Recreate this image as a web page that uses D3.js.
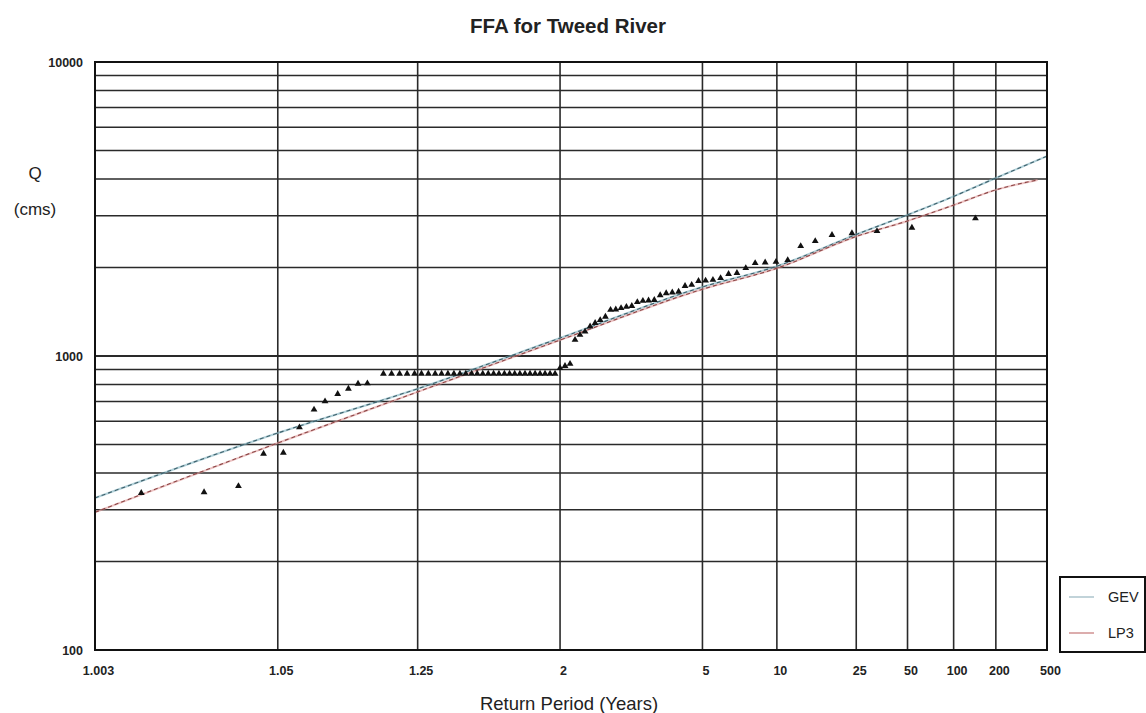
<!DOCTYPE html>
<html>
<head>
<meta charset="utf-8">
<script src="https://cdn.jsdelivr.net/npm/d3@7"></script>
<style>
  html, body { margin: 0; padding: 0; background: #fff; }
  svg { display: block; font-family: "Liberation Sans", Arial, sans-serif; }
</style>
</head>
<body>
<svg id="chart" width="1146" height="713"></svg>
<script>
// ---------------- DATA ----------------
const chartTitle = "FFA for Tweed River";
const xAxisTitle = "Return Period (Years)";
const yAxisTitle = ["Q", "(cms)"];

const xTickValues = [1.003, 1.05, 1.25, 2, 5, 10, 25, 50, 100, 200, 500];
const xTickLabels = ["1.003", "1.05", "1.25", "2", "5", "10", "25", "50", "100", "200", "500"];
const yTickValues = [100, 1000, 10000];
const yTickLabels = ["100", "1000", "10000"];

// observed annual peaks (return period in years, flow in cms), ranked
const obsReturnPeriod = [
  142.0, 53.25, 32.77, 23.67, 18.52, 15.21, 12.91, 11.21, 9.907, 8.875,
  8.038, 7.345, 6.762, 6.265, 5.836, 5.462, 5.133, 4.841, 4.581, 4.347,
  4.136, 3.944, 3.770, 3.610, 3.463, 3.328, 3.203, 3.087, 2.979, 2.878,
  2.784, 2.696, 2.613, 2.536, 2.462, 2.393, 2.328, 2.266, 2.207, 2.152,
  2.099, 2.048, 2.000,
  1.954, 1.910, 1.868, 1.828, 1.790, 1.753, 1.718, 1.684, 1.651, 1.620,
  1.590, 1.560, 1.532, 1.505, 1.479, 1.454, 1.430, 1.406, 1.383, 1.361,
  1.340, 1.319, 1.299, 1.279, 1.260, 1.242, 1.224, 1.207, 1.190, 1.174,
  1.146, 1.1315, 1.1179, 1.1042, 1.0898, 1.0787, 1.0658, 1.0537, 1.0415, 1.0295,
  1.018, 1.0067
];
const obsFlow = [
  2940, 2730, 2660, 2615, 2580, 2460, 2365, 2120, 2090, 2080,
  2070, 1990, 1915, 1900, 1840, 1815, 1805, 1800, 1745, 1730,
  1655, 1645, 1635, 1610, 1550, 1545, 1540, 1525, 1480, 1470,
  1455, 1440, 1435, 1360, 1325, 1295, 1260, 1210, 1180, 1135,
  940, 925, 910,
  870, 870, 870, 870, 870, 870, 870, 870, 870, 870,
  870, 870, 870, 870, 870, 870, 870, 870, 870, 870,
  870, 870, 870, 870, 870, 870, 870, 870, 870, 870,
  807, 805, 774, 743, 701, 657, 572, 469, 465, 361,
  344, 342
];

// fitted distributions
const gevReturnPeriod = [1.003, 1.05, 1.25, 2, 5, 10, 25, 50, 100, 200, 500];
const gevFlow         = [329, 547, 774, 1151, 1717, 2020, 2590, 3020, 3490, 4031, 4786];
const lp3ReturnPeriod = [1.003, 1.05, 1.25, 2, 5, 10, 25, 50, 100, 200, 420];
const lp3Flow         = [294, 506, 755, 1133, 1687, 1988, 2550, 2880, 3260, 3673, 3971];

const legendNames = ["GEV", "LP3"];

// ---------------- HELPERS ----------------
// inverse standard normal CDF (Acklam)
function probit(p) {
  const a = [-3.969683028665376e+01, 2.209460984245205e+02, -2.759285104469687e+02, 1.383577518672690e+02, -3.066479806614716e+01, 2.506628277459239e+00];
  const b = [-5.447609879822406e+01, 1.615858368580409e+02, -1.556989798598866e+02, 6.680131188771972e+01, -1.328068155288572e+01];
  const c = [-7.784894002430293e-03, -3.223964580411365e-01, -2.400758277161838e+00, -2.549732539343734e+00, 4.374664141464968e+00, 2.938163982698783e+00];
  const d = [7.784695709041462e-03, 3.224671290700398e-01, 2.445134137142996e+00, 3.754408661907416e+00];
  const pl = 0.02425, ph = 1 - pl;
  let q, r;
  if (p < pl) {
    q = Math.sqrt(-2 * Math.log(p));
    return (((((c[0]*q+c[1])*q+c[2])*q+c[3])*q+c[4])*q+c[5]) / ((((d[0]*q+d[1])*q+d[2])*q+d[3])*q+1);
  } else if (p <= ph) {
    q = p - 0.5; r = q * q;
    return (((((a[0]*r+a[1])*r+a[2])*r+a[3])*r+a[4])*r+a[5])*q / (((((b[0]*r+b[1])*r+b[2])*r+b[3])*r+b[4])*r+1);
  } else {
    q = Math.sqrt(-2 * Math.log(1 - p));
    return -(((((c[0]*q+c[1])*q+c[2])*q+c[3])*q+c[4])*q+c[5]) / ((((d[0]*q+d[1])*q+d[2])*q+d[3])*q+1);
  }
}
const zOf = T => probit(1 - 1 / T);

// ---------------- LAYOUT ----------------
const svg = d3.select("#chart");
const plot = { left: 95, right: 1047, top: 62, bottom: 650 };

const zScale = d3.scaleLinear()
  .domain([zOf(xTickValues[0]), zOf(xTickValues[xTickValues.length - 1])])
  .range([plot.left, plot.right]);
const x = T => zScale(zOf(T));
const y = d3.scaleLog().domain([100, 10000]).range([plot.bottom, plot.top]);

// ---------------- GRID ----------------
const gridColor = "#2a2a2a";
const grid = svg.append("g");
grid.selectAll("line.h")
  .data(y.ticks().filter(v => v > 100 && v < 10000))
  .join("line")
  .attr("x1", plot.left).attr("x2", plot.right)
  .attr("y1", d => y(d)).attr("y2", d => y(d))
  .attr("stroke", gridColor).attr("stroke-width", d => (String(d)[0] === "1" ? 2 : 1.4));

grid.selectAll("line.v")
  .data(xTickValues.slice(1, -1))
  .join("line")
  .attr("x1", d => x(d)).attr("x2", d => x(d))
  .attr("y1", plot.top).attr("y2", plot.bottom)
  .attr("stroke", gridColor).attr("stroke-width", 1.6);

// ---------------- FITTED LINES ----------------
const line = d3.line().x(d => x(d[0])).y(d => y(d[1])).curve(d3.curveMonotoneX);
const gevData = gevReturnPeriod.map((t, i) => [t, gevFlow[i]]);
const lp3Data = lp3ReturnPeriod.map((t, i) => [t, lp3Flow[i]]);

svg.append("path").datum(gevData).attr("d", line)
  .attr("fill", "none").attr("stroke", "#7fb3bf").attr("stroke-width", 2).attr("opacity", 0.6);
svg.append("path").datum(gevData).attr("d", line)
  .attr("fill", "none").attr("stroke", "#3d5f6a").attr("stroke-width", 1.1).attr("stroke-dasharray", "4,3");
svg.append("path").datum(lp3Data).attr("d", line)
  .attr("fill", "none").attr("stroke", "#e09a9a").attr("stroke-width", 2).attr("opacity", 0.6);
svg.append("path").datum(lp3Data).attr("d", line)
  .attr("fill", "none").attr("stroke", "#8a4545").attr("stroke-width", 1.1).attr("stroke-dasharray", "4,3");

// ---------------- OBSERVED POINTS ----------------
const obs = obsReturnPeriod.map((t, i) => [t, obsFlow[i]]);
svg.append("g").selectAll("path")
  .data(obs)
  .join("path")
  .attr("transform", d => `translate(${x(d[0])},${y(d[1])})`)
  .attr("d", d3.symbol(d3.symbolTriangle).size(20))
  .attr("fill", "#111");

// ---------------- BORDER ----------------
svg.append("rect")
  .attr("x", plot.left).attr("y", plot.top)
  .attr("width", plot.right - plot.left).attr("height", plot.bottom - plot.top)
  .attr("fill", "none").attr("stroke", "#111").attr("stroke-width", 2);

// ---------------- AXES ----------------
const yAxis = d3.axisLeft(y).tickValues(yTickValues).tickSize(0).tickPadding(12)
  .tickFormat((d, i) => yTickLabels[i]);
const gy = svg.append("g").attr("transform", `translate(${plot.left},0)`).call(yAxis);
gy.select(".domain").remove();
gy.selectAll("text").attr("font-size", 12.5).attr("font-weight", "bold").attr("fill", "#222")
  .attr("font-family", "Liberation Sans, Arial, sans-serif");

const xAxis = d3.axisBottom(zScale).tickValues(xTickValues.map(zOf)).tickSize(0).tickPadding(16)
  .tickFormat((d, i) => xTickLabels[i]);
const gx = svg.append("g").attr("transform", `translate(0,${plot.bottom})`).call(xAxis);
gx.select(".domain").remove();
gx.selectAll("text").attr("font-size", 12.5).attr("font-weight", "bold").attr("fill", "#222")
  .attr("dx", 3).attr("font-family", "Liberation Sans, Arial, sans-serif");

// ---------------- TITLES ----------------
svg.append("text").attr("x", 568).attr("y", 33).attr("text-anchor", "middle")
  .attr("font-size", 20.5).attr("font-weight", "bold").attr("fill", "#222").text(chartTitle);
svg.append("text").attr("x", 569).attr("y", 710).attr("text-anchor", "middle")
  .attr("font-size", 18.5).attr("fill", "#222").text(xAxisTitle);
svg.append("text").attr("x", 35).attr("y", 179).attr("text-anchor", "middle")
  .attr("font-size", 17).attr("fill", "#222").text(yAxisTitle[0]);
svg.append("text").attr("x", 35).attr("y", 215).attr("text-anchor", "middle")
  .attr("font-size", 17).attr("fill", "#222").text(yAxisTitle[1]);

// ---------------- LEGEND ----------------
const legend = svg.append("g");
legend.append("rect").attr("x", 1060).attr("y", 577).attr("width", 85).attr("height", 75)
  .attr("fill", "#fff").attr("stroke", "#111").attr("stroke-width", 2);
const legendColors = ["#9fbcc4", "#c98080"];
legend.selectAll("g.item").data(legendNames).join("g")
  .attr("transform", (d, i) => `translate(1069,${597 + i * 36})`)
  .each(function (d, i) {
    const g = d3.select(this);
    g.append("line").attr("x1", 0).attr("x2", 25).attr("y1", 0).attr("y2", 0)
      .attr("stroke", legendColors[i]).attr("stroke-width", 1.3);
    g.append("text").attr("x", 39).attr("y", 5).attr("font-size", 14.5).attr("fill", "#222").text(d);
  });
</script>
</body>
</html>
